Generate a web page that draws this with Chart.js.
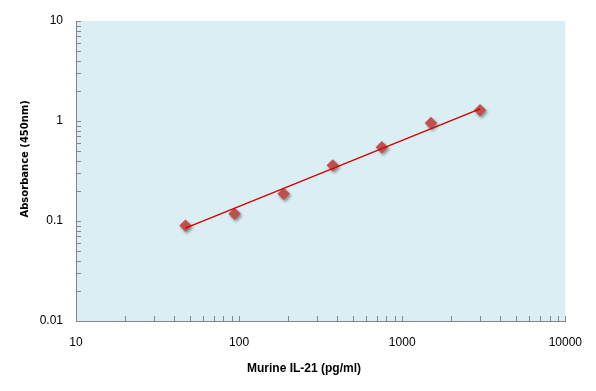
<!DOCTYPE html>
<html>
<head>
<meta charset="utf-8">
<script src="https://cdn.jsdelivr.net/npm/chart.js@4/dist/chart.umd.min.js"></script>
<style>
  body { margin: 0; background: #fff; }
  #wrap { width: 596px; height: 391px; }
</style>
</head>
<body>
<div id="wrap"><canvas id="myChart" width="596" height="391"></canvas></div>
<script>
// standard curve: concentratie tegen absorbantie
var concentration = [46.875, 93.75, 187.5, 375, 750, 1500, 3000];
var absorbance = [0.090, 0.118, 0.187, 0.36, 0.546, 0.955, 1.28];

var trendX = [46.875, 3000];
var trendY = [0.085, 1.32];

// labels op de assen
var xTickLabels = [10, 100, 1000, 10000];
var yTickLabels = [0.01, 0.1, 1, 10];

var xTitle = "Murine IL-21 (pg/ml)";
var yTitle = "Absorbance (450nm)";

function isLabel(list, v) {
    return list.some(function (l) { return Math.abs(l - v) / l < 1e-6; });
}

// alleen hele mantissa's 1..9 houden
function keepWholeTicks(scale) {
    scale.ticks = scale.ticks.filter(function (t) {
        var m = t.value / Math.pow(10, Math.floor(Math.log10(t.value) + 1e-9));
        return Math.abs(m - Math.round(m)) < 1e-6;
    });
}

// lichtblauwe achtergrond van het plotgebied
var plotBackground = {
    id: "plotBackground",
    beforeDraw: function (chart) {
        var a = chart.chartArea;
        var ctx = chart.ctx;
        ctx.save();
        ctx.fillStyle = "#DBEEF3";
        ctx.fillRect(a.left, a.top, a.right - a.left, a.bottom - a.top);
        ctx.restore();
    }
};

// kleine streepjes aan de binnenkant van de assen
var innerTicks = {
    id: "innerTicks",
    beforeDatasetsDraw: function (chart) {
        var a = chart.chartArea;
        var ctx = chart.ctx;
        var xs = chart.scales.x, ys = chart.scales.y;
        ctx.save();
        ctx.strokeStyle = "#868686";
        ctx.lineWidth = 1;
        ctx.beginPath();
        xs.ticks.forEach(function (t) {
            var px = Math.round(xs.getPixelForValue(t.value)) + 0.5;
            ctx.moveTo(px, a.bottom);
            ctx.lineTo(px, a.bottom - 5);
        });
        ys.ticks.forEach(function (t) {
            var py = Math.round(ys.getPixelForValue(t.value)) + 0.5;
            ctx.moveTo(a.left, py);
            ctx.lineTo(a.left + 5, py);
        });
        ctx.stroke();
        ctx.restore();
    }
};

// schaduw onder de punten
var pointShadow = {
    id: "pointShadow",
    beforeDatasetDraw: function (chart, args) {
        if (args.index !== 1) return;
        var ctx = chart.ctx;
        ctx.save();
        ctx.shadowColor = "rgba(0,0,0,0.4)";
        ctx.shadowBlur = 3;
        ctx.shadowOffsetX = 1.5;
        ctx.shadowOffsetY = 2;
    },
    afterDatasetDraw: function (chart, args) {
        if (args.index !== 1) return;
        chart.ctx.restore();
    }
};

Chart.defaults.font.family = "'Liberation Sans', Arial, sans-serif";
Chart.defaults.color = "#000";

var ctx = document.getElementById("myChart").getContext("2d");
var myChart = new Chart(ctx, {
    type: "scatter",
    data: {
        datasets: [{
            label: "trend",
            data: trendX.map(function (x, i) { return { x: x, y: trendY[i] }; }),
            showLine: true,
            borderColor: "#D40000",
            borderWidth: 1.4,
            pointRadius: 0,
            fill: false
        }, {
            label: "standard",
            data: concentration.map(function (x, i) { return { x: x, y: absorbance[i] }; }),
            pointStyle: "rectRot",
            pointRadius: 6.2,
            pointBackgroundColor: "#C0504D",
            pointBorderWidth: 0,
            borderWidth: 0
        }]
    },
    options: {
        responsive: false,
        devicePixelRatio: 1,
        animation: false,
        events: [],
        layout: { padding: { left: 0, right: 28, top: 21, bottom: 0 } },
        plugins: {
            legend: { display: false },
            tooltip: { enabled: false }
        },
        scales: {
            x: {
                type: "logarithmic",
                min: 10,
                max: 10000,
                afterBuildTicks: keepWholeTicks,
                afterFit: function (s) { s.height = 70; },
                grid: { display: false, drawTicks: false },
                border: { display: true, color: "#868686", width: 1 },
                ticks: {
                    autoSkip: false,
                    maxRotation: 0,
                    padding: 14,
                    font: { size: 12 },
                    callback: function (v) { return isLabel(xTickLabels, v) ? String(v) : ""; }
                },
                title: {
                    display: true,
                    text: xTitle + "\u00a0\u00a0\u00a0\u00a0\u00a0\u00a0\u00a0\u00a0\u00a0\u00a0",
                    font: { size: 12, weight: "bold" },
                    padding: { top: 0, bottom: 15 }
                }
            },
            y: {
                type: "logarithmic",
                min: 0.01,
                max: 10,
                afterBuildTicks: keepWholeTicks,
                afterFit: function (s) { s.width = 76; },
                grid: { display: false, drawTicks: false },
                border: { display: true, color: "#868686", width: 1 },
                ticks: {
                    autoSkip: false,
                    padding: 13,
                    font: { size: 12 },
                    callback: function (v) { return isLabel(yTickLabels, v) ? String(Number(v.toPrecision(1))) : ""; }
                },
                title: {
                    display: true,
                    text: "\u00a0\u00a0\u00a0\u00a0\u00a0\u00a0\u00a0" + yTitle,
                    font: { family: "'DejaVu Sans', Verdana, sans-serif", size: 10, weight: "bold" },
                    padding: { top: 19, bottom: 0 }
                }
            }
        }
    },
    plugins: [plotBackground, innerTicks, pointShadow]
});
</script>
</body>
</html>
